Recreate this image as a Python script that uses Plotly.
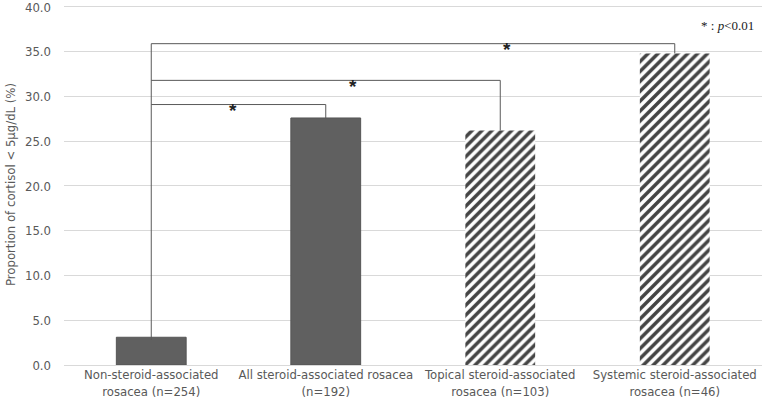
import plotly.graph_objects as go

categories = [
    "Non-steroid-associated<br>rosacea (n=254)",
    "All steroid-associated rosacea<br>(n=192)",
    "Topical steroid-associated<br>rosacea (n=103)",
    "Systemic steroid-associated<br>rosacea (n=46)",
]
values = [3.1, 27.6, 26.2, 34.8]
hatched = [False, False, True, True]
y_ticks = [0, 5, 10, 15, 20, 25, 30, 35, 40]

# comparison brackets: (from index, to index, bracket height, star x, star y)
brackets = [
    (0, 1, 29.1, 0.47, 28.4),
    (0, 2, 31.8, 1.155, 31.1),
    (0, 3, 35.9, 2.04, 35.2),
]

FONT = "Liberation Sans Narrow, DejaVu Sans Condensed, Liberation Sans, sans-serif"
LINE = "#595959"

fig = go.Figure()
xs = list(range(len(categories)))
fig.add_trace(go.Bar(
    x=xs,
    y=values,
    width=0.4,
    marker=dict(
        color=["#ffffff" if h else "#606060" for h in hatched],
        line=dict(color=["rgba(0,0,0,0)" if h else "#555555" for h in hatched], width=1),
        pattern=dict(
            shape=["/" if h else "" for h in hatched],
            fgcolor="#111111",
            fgopacity=1,
            bgcolor="#ffffff",
            size=7,
            solidity=0.5,
        ),
    ),
    hoverinfo="skip",
))

shapes = []
# shared left leg
shapes.append(dict(type="line", xref="x", yref="y", x0=0, x1=0,
                   y0=values[0] - 0.3, y1=max(b[2] for b in brackets),
                   line=dict(color=LINE, width=1)))
annotations = []
for i, j, h, sx, sy in brackets:
    shapes.append(dict(type="line", xref="x", yref="y", x0=i, x1=j, y0=h, y1=h,
                       line=dict(color=LINE, width=1)))
    shapes.append(dict(type="line", xref="x", yref="y", x0=j, x1=j, y0=values[j], y1=h,
                       line=dict(color=LINE, width=1)))
    annotations.append(dict(x=sx, y=sy, xref="x", yref="y", text="<b>*</b>", showarrow=False,
                            font=dict(family="Liberation Sans", size=19, color="#222222"),
                            yanchor="middle"))

annotations.append(dict(x=1, y=37.9, xref="paper", yref="y", xanchor="right", xshift=-6,
                        text="* : <i>p</i><0.01", showarrow=False,
                        font=dict(family="Liberation Serif", size=13, color="#222222")))

fig.update_layout(
    width=762, height=407,
    margin=dict(l=64, r=0, t=2, b=42),
    plot_bgcolor="#ffffff", paper_bgcolor="#ffffff",
    showlegend=False,
    shapes=shapes,
    annotations=annotations,
    bargap=0.6,
    xaxis=dict(
        range=[-0.5, 3.5],
        tickvals=xs, ticktext=categories,
        showgrid=False, zeroline=False, showline=False, ticks="",
        tickfont=dict(family=FONT, size=13, color="#595959"),
    ),
    yaxis=dict(
        range=[0, 40.333], tickvals=y_ticks, tickformat=".1f",
        showgrid=True, gridcolor="#d9d9d9", gridwidth=1,
        zeroline=True, zerolinecolor="#d9d9d9", zerolinewidth=1,
        showline=False, ticks="", ticklabelstandoff=12, ticklabeloverflow="allow",
        tickfont=dict(family=FONT, size=13, color="#595959"),
        title=dict(text="Proportion of cortisol < 5µg/dL (%)",
                   font=dict(family=FONT, size=13, color="#595959"), standoff=6),
    ),
)

fig.write_html("out.html")
